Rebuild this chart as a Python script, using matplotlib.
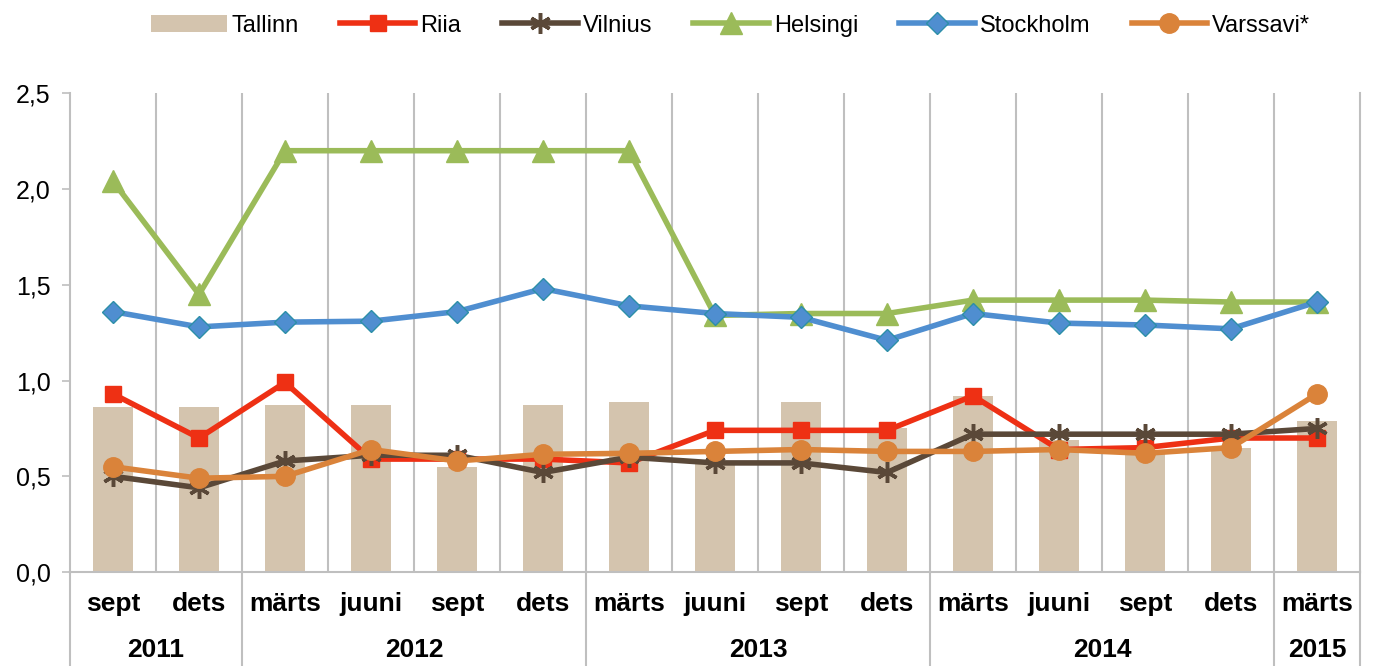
import matplotlib
matplotlib.use('Agg')
import matplotlib.pyplot as plt
import numpy as np

plt.rcParams['font.family'] = ['Liberation Sans', 'DejaVu Sans']
narrow = ['Liberation Sans Narrow', 'Liberation Sans', 'DejaVu Sans']

months = ['sept', 'dets', 'märts', 'juuni', 'sept', 'dets', 'märts', 'juuni',
          'sept', 'dets', 'märts', 'juuni', 'sept', 'dets', 'märts']
years = ['2011', '2012', '2013', '2014', '2015']
year_counts = [2, 4, 4, 4, 1]

tallinn = [0.86, 0.86, 0.87, 0.87, 0.55, 0.87, 0.89, 0.58, 0.89, 0.75, 0.92, 0.69, 0.62, 0.65, 0.79]
riia = [0.93, 0.70, 0.99, 0.59, 0.59, 0.59, 0.57, 0.74, 0.74, 0.74, 0.92, 0.64, 0.65, 0.70, 0.70]
vilnius = [0.50, 0.44, 0.58, 0.61, 0.61, 0.52, 0.60, 0.57, 0.57, 0.52, 0.72, 0.72, 0.72, 0.72, 0.75]
helsingi = [2.04, 1.45, 2.20, 2.20, 2.20, 2.20, 2.20, 1.34, 1.35, 1.35, 1.42, 1.42, 1.42, 1.41, 1.41]
stockholm = [1.36, 1.28, 1.305, 1.31, 1.36, 1.48, 1.39, 1.35, 1.33, 1.21, 1.35, 1.30, 1.29, 1.27, 1.41]
varssavi = [0.55, 0.49, 0.50, 0.64, 0.58, 0.615, 0.62, 0.63, 0.64, 0.63, 0.63, 0.64, 0.62, 0.65, 0.93]

x = np.arange(len(months))

fig = plt.figure(figsize=(13.73, 6.66), dpi=100)
ax = fig.add_axes([0.051, 0.141, 0.9395, 0.719])

lw = 4
h_bar = ax.bar(x, tallinn, width=0.47, color='#D4C4AE', label='Tallinn', zorder=2)
h_riia, = ax.plot(x, riia, color='#EE3014', lw=lw, marker='s', ms=11, label='Riia', zorder=3)
h_vil, = ax.plot(x, vilnius, color='#5A4838', lw=lw, marker=(6, 2, 0), ms=15, mew=2.5,
                 label='Vilnius', zorder=3)
h_hel, = ax.plot(x, helsingi, color='#9BBB59', lw=lw, marker='^', ms=16, label='Helsingi', zorder=3)
h_sto, = ax.plot(x, stockholm, color='#4F8ED0', lw=lw, marker='D', ms=11, mec='#2C8FA8', mew=1,
                 label='Stockholm', zorder=3)
h_var, = ax.plot(x, varssavi, color='#DA833A', lw=lw, marker='o', ms=14, label='Varssavi*', zorder=4)

ax.set_xlim(-0.5, len(months) - 0.5)
ax.set_ylim(0, 2.5)
yt = np.arange(0, 2.51, 0.5)
ax.set_yticks(yt)
ax.set_yticklabels([f'{v:.1f}'.replace('.', ',') for v in yt], fontsize=18)
ax.tick_params(axis='y', color='#BFBFBF', length=6, width=1.2, pad=8)
ax.set_xticks([])

ax.spines['top'].set_visible(False)
for s in ['left', 'bottom', 'right']:
    ax.spines[s].set_color('#BFBFBF')
    ax.spines[s].set_linewidth(1.5)

# vertical gridlines between categories
for b in np.arange(0.5, len(months) - 0.5, 1):
    ax.axvline(b, color='#BFBFBF', lw=1.5, zorder=1)

# month and year labels under the axis
trans = ax.get_xaxis_transform()
for i, m in enumerate(months):
    ax.text(i, -0.066, m, transform=trans, ha='center', va='center',
            fontsize=19, fontweight='bold', family=narrow)

start = 0
bounds = [-0.5]
for yr, n in zip(years, year_counts):
    ax.text(start + (n - 1) / 2, -0.163, yr, transform=trans, ha='center', va='center',
            fontsize=19, fontweight='bold', family=narrow)
    start += n
    bounds.append(start - 0.5)
for b in bounds:
    ax.plot([b, b], [0, -0.2], transform=trans, color='#BFBFBF', lw=1.5, clip_on=False)

fig.legend([h_bar, h_riia, h_vil, h_hel, h_sto, h_var],
           ['Tallinn', 'Riia', 'Vilnius', 'Helsingi', 'Stockholm', 'Varssavi*'],
           loc='upper center', bbox_to_anchor=(0.532, 1.01), ncol=6, frameon=False,
           fontsize=17, handlelength=3.2, columnspacing=1.75, handletextpad=0.2)

fig.savefig('out.png', dpi=100)
